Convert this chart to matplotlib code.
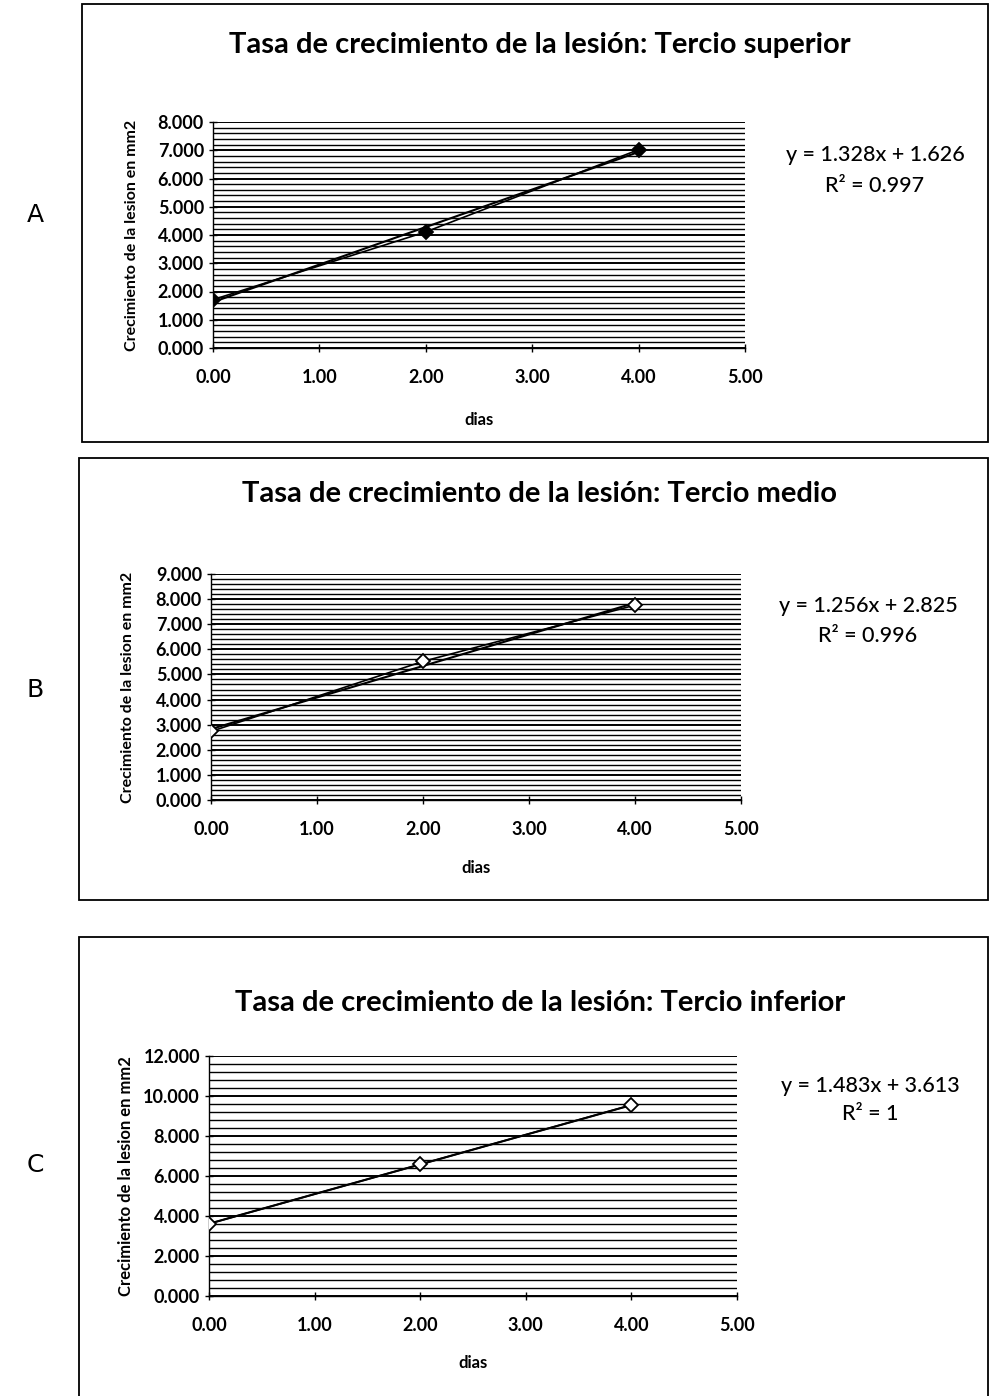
import numpy as np
import matplotlib
matplotlib.use("Agg")
import matplotlib.pyplot as plt
from matplotlib.patches import Rectangle
from matplotlib.ticker import MultipleLocator, FormatStrFormatter

W, H = 994, 1396
FONT = "Lato"

# ===== datos =====
dias = [0.0, 2.0, 4.0]
sup_area = [1.71, 4.11, 7.02]     # tercio superior
med_area = [2.73, 5.52, 7.76]     # tercio medio
inf_area = [3.61, 6.58, 9.55]     # tercio inferior

sup_fit = (1.328, 1.626, "0.997")
med_fit = (1.256, 2.825, "0.996")
inf_fit = (1.483, 3.613, "1")

titulos = ["Tasa de crecimiento de la lesión: Tercio superior",
           "Tasa de crecimiento de la lesión: Tercio medio",
           "Tasa de crecimiento de la lesión: Tercio inferior"]
letras = ["A", "B", "C"]
ylabels = ["Crecimiento de la lesion en mm2",
           "Crecimiento de la lesion en mm2",
           "Crecimiento de la lesion en mm2"]
ymax = [8.0, 9.0, 12.0]
ystep = [1.0, 1.0, 2.0]

# layout en pixeles: caja, ejes, titulo, ecuacion, letra
PANELS = [
    dict(box=(82, 4, 988, 442), ax=(213, 745, 122, 348), title_y=45,
         eq=(875, 155, 186), letter_y=215, ylab_x=132, xlab_y=420,
         ylab_fs=11.5, filled=True),
    dict(box=(79, 458, 988, 900), ax=(211, 741, 574, 800), title_y=494,
         eq=(868, 606, 636), letter_y=690, ylab_x=128, xlab_y=868,
         ylab_fs=11.5, filled=False),
    dict(box=(79, 937, 988, 1400), ax=(209, 737, 1056, 1296), title_y=1003,
         eq=(870, 1086, 1114), letter_y=1165, ylab_x=126, xlab_y=1363,
         ylab_fs=12, filled=False),
]

fig = plt.figure(figsize=(W / 100, H / 100), dpi=100)
fig.patch.set_facecolor("white")


def fx(px):
    return px / W


def fy(py):
    return 1 - py / H


series = [(sup_area, sup_fit), (med_area, med_fit), (inf_area, inf_fit)]

for i, p in enumerate(PANELS):
    area, (m, b, r2) = series[i]
    bx0, by0, bx1, by1 = p["box"]
    fig.patches.append(Rectangle((fx(bx0), fy(by1)), fx(bx1 - bx0), (by1 - by0) / H,
                                 transform=fig.transFigure, fill=False,
                                 ec="black", lw=1.3))

    x0, x1, yt, yb = p["ax"]
    ax = fig.add_axes([fx(x0), fy(yb), fx(x1 - x0), (yb - yt) / H])
    ax.set_xlim(0, 5)
    ax.set_ylim(0, ymax[i])
    ax.yaxis.set_major_locator(MultipleLocator(ystep[i]))
    ax.yaxis.set_minor_locator(MultipleLocator(ystep[i] / 5))
    ax.xaxis.set_major_locator(MultipleLocator(1.0))
    ax.yaxis.set_major_formatter(FormatStrFormatter("%.3f"))
    ax.xaxis.set_major_formatter(FormatStrFormatter("%.2f"))
    ax.grid(axis="y", which="major", color="black", lw=1.4)
    ax.grid(axis="y", which="minor", color="black", lw=1.0)
    ax.set_axisbelow(True)
    for s in ["top", "right"]:
        ax.spines[s].set_visible(False)
    for s in ["left", "bottom"]:
        ax.spines[s].set_linewidth(1.0)
    ax.tick_params(axis="both", which="major", direction="inout", length=6,
                   width=1.0, labelsize=13)
    ax.tick_params(axis="y", which="minor", length=0)
    ax.tick_params(axis="x", pad=12)
    for lab in ax.get_xticklabels() + ax.get_yticklabels():
        lab.set_fontfamily(FONT)
        lab.set_fontweight("bold")

    # serie de datos
    ax.plot(dias, area, color="black", lw=1.2, marker="D", ms=7,
            mfc="black" if p["filled"] else "white", mec="black", mew=1.3,
            zorder=4)
    # linea de tendencia
    xt = np.array([dias[0], dias[-1]])
    ax.plot(xt, m * xt + b, color="black", lw=1.5, zorder=3)

    ax.set_xlabel("dias", fontfamily=FONT, fontweight="bold", fontsize=12)
    ax.xaxis.set_label_coords(0.5, 1 - (p["xlab_y"] - yt) / (yb - yt),
                              transform=ax.transAxes)
    ax.xaxis.label.set_va("center")

    fig.text(fx(p["ylab_x"]), fy((yt + yb) / 2), ylabels[i], rotation=90,
             ha="center", va="center", fontfamily=FONT, fontweight="bold",
             fontsize=p["ylab_fs"])

    fig.text(fx(540), fy(p["title_y"]), titulos[i], ha="center", va="center",
             fontfamily=FONT, fontweight="bold", fontsize=21)

    ex, ey1, ey2 = p["eq"]
    fig.text(fx(ex), fy(ey1), f"y = {m:.3f}x + {b:.3f}", ha="center",
             va="center", fontfamily=FONT, fontweight="medium", fontsize=15.5)
    fig.text(fx(ex), fy(ey2), f"R² = {r2}", ha="center", va="center",
             fontfamily=FONT, fontweight="medium", fontsize=15.5)

    fig.text(fx(35), fy(p["letter_y"]), letras[i], ha="center", va="center",
             fontfamily="DejaVu Sans", fontsize=18)

fig.savefig("out.png", dpi=100)
